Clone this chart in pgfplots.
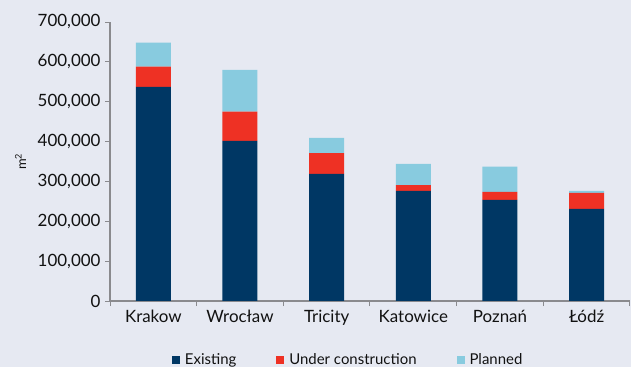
\documentclass[border=0pt]{standalone}
\usepackage{fontspec}
\setmainfont{Lato}
\usepackage{pgfplots}
\pgfplotsset{compat=1.18}
\definecolor{bg}{HTML}{E6E9F2}
\definecolor{navy}{HTML}{003764}
\definecolor{redc}{HTML}{EE3124}
\definecolor{lblue}{HTML}{88CBDF}
\definecolor{axgray}{HTML}{8A8A8E}
\definecolor{txt}{HTML}{111111}
\begin{document}
\begin{tikzpicture}
\fill[bg] (0,0) rectangle (631bp,367bp);
\useasboundingbox (0,0) rectangle (631bp,367bp);
\begin{axis}[
  at={(110bp,66bp)}, anchor=south west,
  scale only axis, width=520bp, height=279bp,
  ybar stacked, bar width=35bp,
  xmin=-0.5, xmax=5.5, ymin=0, ymax=700000,
  xtick={0,...,5},
  xticklabels={Krakow,Wrocław,Tricity,Katowice,Poznań,Łódź},
  minor xtick={-0.5,0.5,...,5.5},
  ytick={0,100000,...,700000},
  axis lines*=left,
  axis line style={draw=axgray, line width=1.2bp},
  tick align=outside,
  major tick length=5bp, minor tick length=5bp,
  major x tick style={draw=none},
  minor x tick style={draw=axgray, line width=1bp},
  major y tick style={draw=axgray, line width=1bp},
  scaled y ticks=false,
  /pgf/number format/.cd, fixed, 1000 sep={,}, assume math mode=true,
  /pgfplots/.cd,
  tick label style={font=\fontsize{17}{20}\selectfont, text=txt},
  yticklabel style={xshift=-1bp},
  xticklabel style={yshift=-1bp},
  ylabel={m\textsuperscript{2}},
  ylabel style={at={(axis description cs:-0.172,0.5)}, anchor=center, rotate=0, font=\fontsize{13}{15}\selectfont, text=txt},
  legend columns=-1,
  legend style={at={(axis description cs:0.458,-0.21)}, anchor=center, draw=none, fill=none,
    font=\fontsize{15}{17}\selectfont, text=txt,
    /tikz/every even column/.append style={column sep=38bp},
    /tikz/every odd column/.append style={column sep=3bp}},
  legend image code/.code={\fill[#1] (0bp,-4bp) rectangle (8bp,4bp);},
]
\addplot[fill=navy, draw=none] coordinates {(0,537000) (1,402000) (2,319000) (3,276000) (4,254000) (5,231000)};
\addplot[fill=redc, draw=none] coordinates {(0,51000) (1,73000) (2,52000) (3,15000) (4,20000) (5,40000)};
\addplot[fill=lblue, draw=none] coordinates {(0,60000) (1,105000) (2,38000) (3,53000) (4,63000) (5,5000)};
\legend{Existing, Under construction, Planned}
\end{axis}
\end{tikzpicture}
\end{document}
